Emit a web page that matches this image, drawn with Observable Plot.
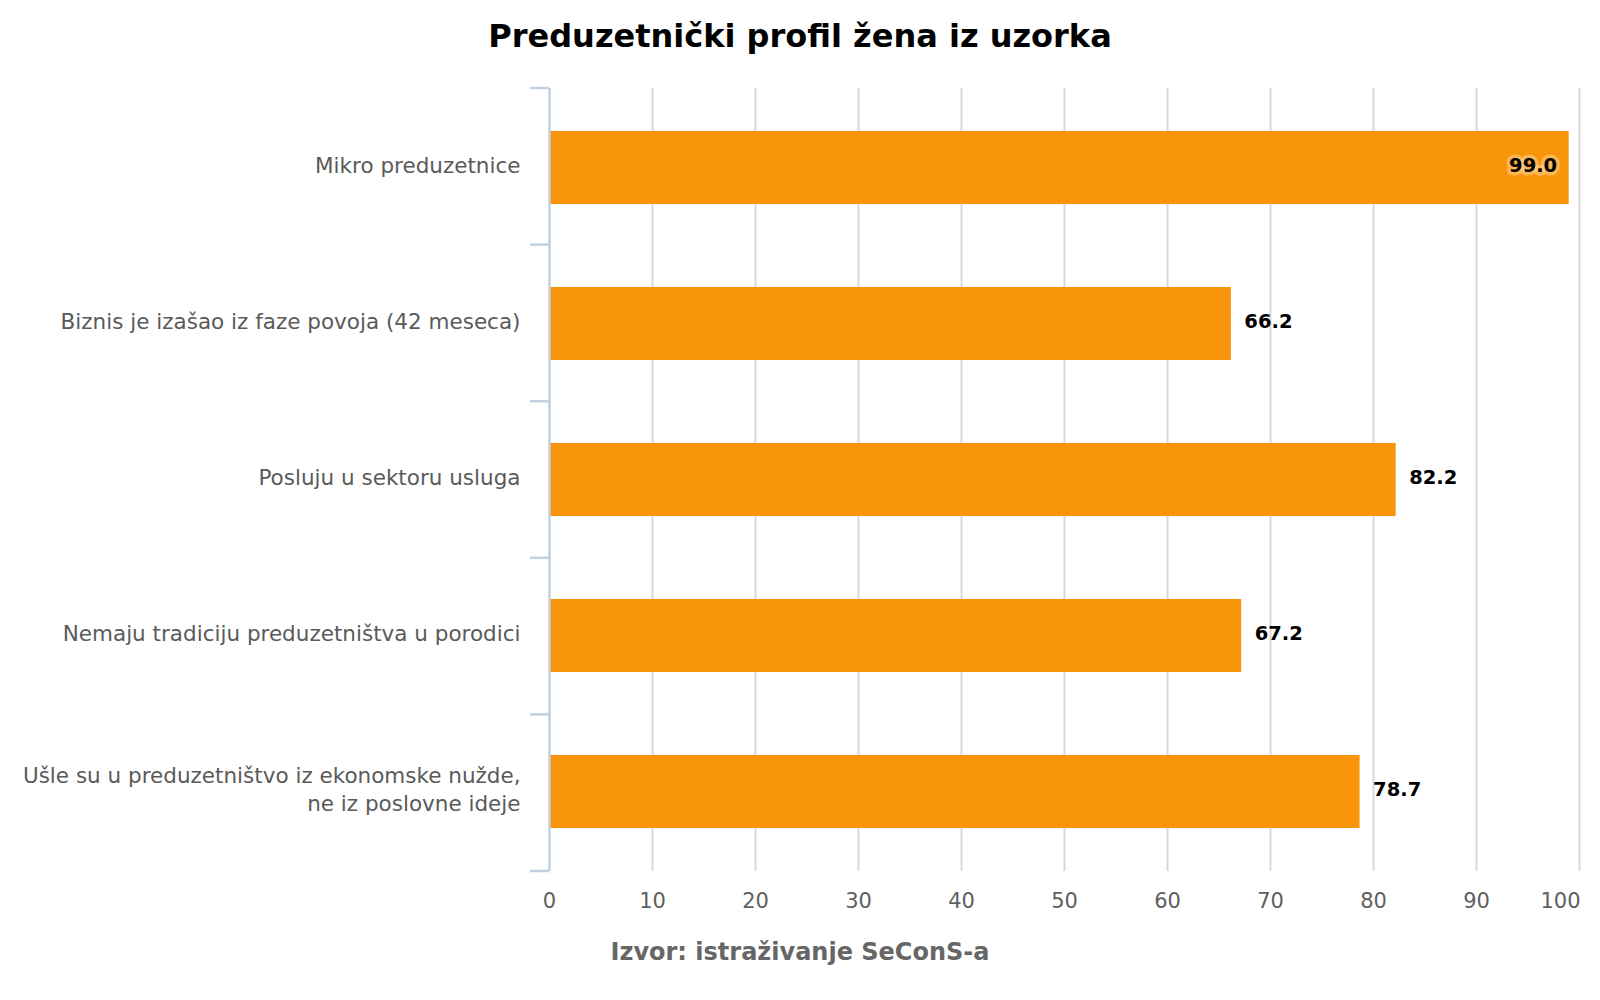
<!DOCTYPE html>
<html>
<head>
<meta charset="utf-8">
<script src="https://cdn.jsdelivr.net/npm/d3@7"></script>
<script src="https://cdn.jsdelivr.net/npm/@observablehq/plot@0.6"></script>
<style>
  html, body { margin: 0; padding: 0; background: #fff; }
  #wrap { width: 1600px; font-family: "DejaVu Sans", sans-serif; }
  #title { padding-top: 19px; height: 35px; line-height: 34px; font-size: 32px; font-weight: bold; color: #000; text-align: center; }
  #caption { margin-top: 16px; font-size: 24px; line-height: 28px; font-weight: bold; color: #666; text-align: center; }
  svg { display: block; }
</style>
</head>
<body>
<div id="wrap">
  <div id="title">Preduzetnički profil žena iz uzorka</div>
  <div id="chart"></div>
  <div id="caption">Izvor: istraživanje SeConS-a</div>
</div>
<script>
const categories = [
  "Mikro preduzetnice",
  "Biznis je izašao iz faze povoja (42 meseca)",
  "Posluju u sektoru usluga",
  "Nemaju tradiciju preduzetništva u porodici",
  "Ušle su u preduzetništvo iz ekonomske nužde, ne iz poslovne ideje"
];
const categoryLabels = [
  "Mikro preduzetnice",
  "Biznis je izašao iz faze povoja (42 meseca)",
  "Posluju u sektoru usluga",
  "Nemaju tradiciju preduzetništva u porodici",
  "Ušle su u preduzetništvo iz ekonomske nužde,\nne iz poslovne ideje"
];
const values = [99.0, 66.2, 82.2, 67.2, 78.7];
const xTicks = [0, 10, 20, 30, 40, 50, 60, 70, 80, 90, 100];

const data = categories.map((c, i) => ({cat: c, value: values[i]}));
const insideThreshold = 95;
const lastTick = xTicks[xTicks.length - 1];

const boundaryTicks = (index, scales, values, dimensions) => {
  const {marginTop, marginBottom, marginLeft, height} = dimensions;
  const n = categories.length;
  const step = (height - marginTop - marginBottom) / n;
  const g = d3.create("svg:g");
  d3.range(n + 1).forEach(i => {
    g.append("line")
      .attr("x1", marginLeft - 19).attr("x2", marginLeft)
      .attr("y1", marginTop + i * step).attr("y2", marginTop + i * step)
      .attr("stroke", "#c0d0e0").attr("stroke-width", 2.5);
  });
  return g.node();
};

const chart = Plot.plot({
  width: 1600,
  height: 868,
  marginTop: 34,
  marginBottom: 51,
  marginLeft: 549,
  marginRight: 21,
  style: {fontFamily: "DejaVu Sans, sans-serif", background: "#fff"},
  x: {domain: [0, 100], ticks: xTicks},
  y: {domain: categories, paddingInner: 0.53, paddingOuter: 0.265},
  marks: [
    Plot.gridX(xTicks.filter(d => d > 0), {stroke: "#d9d9d9", strokeOpacity: 1, strokeWidth: 2}),
    Plot.barX(data, {x: "value", y: "cat", fill: "#f8950b"}),
    Plot.ruleX([0], {stroke: "#c0d0e0", strokeWidth: 2.5}),
    boundaryTicks,
    Plot.axisX({ticks: xTicks.filter(d => d < lastTick), tickSize: 0, tickPadding: 22, fontSize: 21, color: "#606060", label: null}),
    Plot.axisX({ticks: [lastTick], tickSize: 0, tickPadding: 22, fontSize: 21, color: "#606060", label: null, textAnchor: "end", dx: 1}),
    Plot.axisY({
      tickSize: 0, tickPadding: 29, fontSize: 21.5, color: "#5a5a5a", label: null, lineHeight: 1.28, dy: -4,
      tickFormat: d => categoryLabels[categories.indexOf(d)]
    }),
    Plot.text(data.filter(d => d.value < insideThreshold), {
      x: "value", y: "cat", text: d => d.value.toFixed(1), dy: -2,
      textAnchor: "start", dx: 13, fontSize: 19.5, fontWeight: "bold", fill: "#000"
    }),
    Plot.text(data.filter(d => d.value >= insideThreshold), {
      x: "value", y: "cat", text: d => d.value.toFixed(1), dy: -2,
      textAnchor: "end", dx: -12, fontSize: 19.5, fontWeight: "bold", fill: "#000",
      stroke: "#ffe0b0", strokeWidth: 7, strokeOpacity: 0.45, paintOrder: "stroke", strokeLinejoin: "round"
    })
  ]
});
document.getElementById("chart").appendChild(chart);
</script>
</body>
</html>
